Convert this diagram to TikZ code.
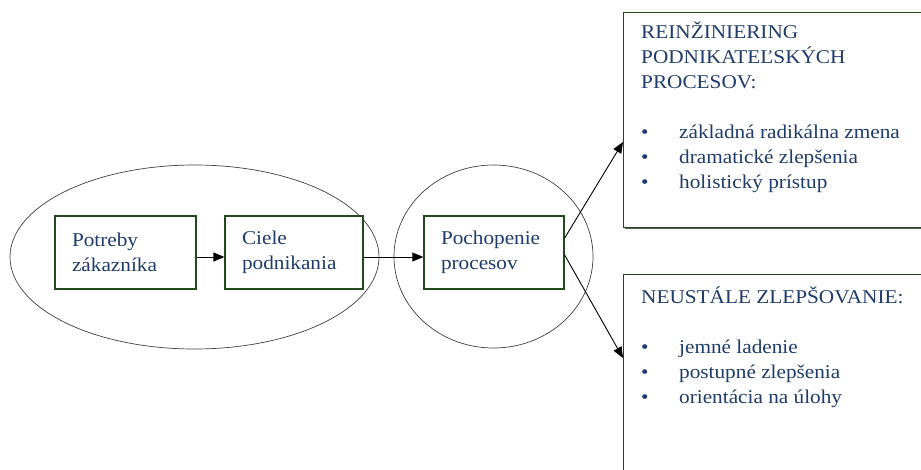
\documentclass[tikz,border=0pt]{standalone}
\usepackage{fontspec}
\setmainfont{Liberation Serif}[FakeStretch=1.09]
\usetikzlibrary{arrows.meta,shapes.geometric,shadows,calc}
\definecolor{txtblue}{HTML}{1F3C6A}
\definecolor{boxgreen}{HTML}{224A1C}
\tikzset{
  boxfont/.style={text=txtblue, font=\fontsize{19.5}{25}\selectfont},
  framed/.style={draw=boxgreen, line width=1.3pt, fill=white,
    drop shadow={shadow xshift=1.3pt, shadow yshift=-1.3pt, fill=black!65, opacity=1}},
  procbox/.style={framed, boxfont, minimum height=73pt, inner xsep=17pt,
    inner ysep=0pt, align=left},
  bigbox/.style={framed, anchor=north west, minimum width=330pt, inner sep=0pt},
  listtext/.style={boxfont, anchor=north west, inner sep=0pt, align=left},
  group/.style={draw=black!75, line width=0.7pt, inner sep=0pt, outer sep=0pt},
  flow/.style={draw=black, line width=0.9pt, -{Triangle[length=11pt,width=9pt]}}
}
\newcommand{\bul}{\makebox[38pt][l]{\textbullet}}
\begin{document}
\begin{tikzpicture}[x=1pt, y=-1pt]
  \useasboundingbox (0,0) rectangle (921,469);

  % grouping outlines
  \node[group, ellipse, minimum width=369pt, minimum height=184pt] (grp) at (194.5,257) {};
  \node[group, ellipse, minimum width=199pt, minimum height=183pt] (circ) at (493.5,256.5) {};

  % process boxes
  \node[procbox, text width=107pt] (needs) at (125.5,252.5) {Potreby\\zákazníka};
  \node[procbox, text width=104pt] (goals) at (294,252.5) {Ciele\\podnikania};
  \node[procbox, text width=106pt] (proc) at (494,252.5) {Pochopenie\\procesov};

  % outcome boxes
  \node[bigbox, minimum height=215pt] (bpr) at (623,12) {};
  \node[listtext] (bprtext) at (641,20.5) {\strut REINŽINIERING\\PODNIKATEĽSKÝCH\\PROCESOV:\\[25pt]
    \bul základná radikálna zmena\\
    \bul dramatické zlepšenia\\
    \bul holistický prístup};

  \node[bigbox, minimum height=230pt] (kaizen) at (623,274) {};
  \node[listtext] (kaizentext) at (641,285.5) {\strut NEUSTÁLE ZLEPŠOVANIE:\\[25pt]
    \bul jemné ladenie\\
    \bul postupné zlepšenia\\
    \bul orientácia na úlohy};

  % connectors
  \draw[flow] ([yshift=-4.5pt]needs.east) -- ([yshift=-4.5pt]goals.west);
  \draw[flow] ([yshift=-4.5pt]goals.east) -- ([yshift=-4.5pt]proc.west);
  \draw[flow] ([yshift=14.5pt]proc.east) -- ($(bpr.north west)+(0,130)$);
  \draw[flow] ([yshift=-2.5pt]proc.east) -- ($(kaizen.north west)+(0,84)$);
\end{tikzpicture}
\end{document}
